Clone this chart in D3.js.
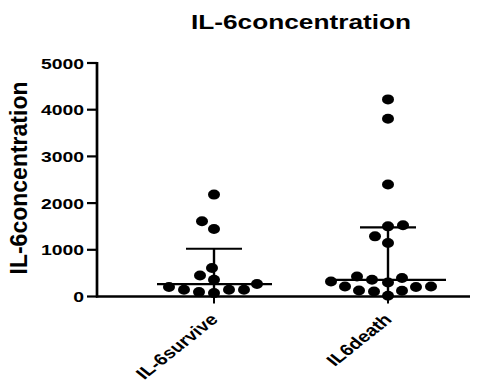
<!DOCTYPE html>
<html lang="en">
<head>
<meta charset="utf-8" />
<title>IL-6concentration</title>
<script src="https://cdn.jsdelivr.net/npm/d3@7"></script>
<style>
  body { margin: 0; background: #fff; }
  text { font-family: "Liberation Sans", Arial, sans-serif; font-weight: bold; fill: #000; }
</style>
</head>
<body>
<div id="chart"></div>
<script>
  // data
  var categories = ["IL-6survive", "IL6death"];
  var surviveValues = [2182, 1610, 1446, 609, 451, 358, 266, 202, 144, 144, 144, 94, 73];
  var deathValues = [4221, 3807, 2397, 1524, 1502, 1288, 1146, 429, 395, 358, 322, 300, 215, 215, 202, 129, 122, 107, 15];
  var medians = [266, 358];
  var upperBars = [1023, 1481];
  var yTicks = [0, 1000, 2000, 3000, 4000, 5000];

  var width = 502, height = 389;
  var sx = 1.25;          // the original picture is stretched sideways
  var rx = 6, ry = 5;     // dot size

  var svg = d3.select("#chart").append("svg")
      .attr("width", width)
      .attr("height", height);

  var x = d3.scalePoint().domain(categories).range([214, 388]);
  var y = d3.scaleLinear().domain([0, 5000]).range([296.5, 63]);

  function wideText(tx, ty, extra) {
    return "translate(" + tx + "," + ty + ") scale(" + sx + ",1)" + (extra || "");
  }

  // title
  svg.append("text")
      .attr("transform", wideText(301, 29))
      .attr("text-anchor", "middle")
      .style("font-size", "21px")
      .text("IL-6concentration");

  // y axis
  svg.append("line")
      .attr("x1", 97).attr("x2", 97)
      .attr("y1", y(5000) - 1).attr("y2", y(0) + 1)
      .attr("stroke", "#000").attr("stroke-width", 2.7);
  var yt = svg.selectAll(".ytick").data(yTicks).enter().append("g")
      .attr("transform", function(d) { return "translate(0," + y(d) + ")"; });
  yt.append("line")
      .attr("x1", 87).attr("x2", 97)
      .attr("stroke", "#000").attr("stroke-width", 2.2);
  yt.append("text")
      .attr("transform", wideText(84, 0))
      .attr("dy", "0.36em")
      .attr("text-anchor", "end")
      .style("font-size", "15.5px")
      .text(function(d) { return d; });

  svg.append("text")
      .attr("transform", "translate(27,178) rotate(-90)")
      .attr("text-anchor", "middle")
      .style("font-size", "23px")
      .text("IL-6concentration");

  // x axis
  svg.append("line")
      .attr("x1", 96).attr("x2", 470)
      .attr("y1", y(0)).attr("y2", y(0))
      .attr("stroke", "#000").attr("stroke-width", 2.5);
  svg.selectAll(".xtick").data(categories).enter().append("line")
      .attr("x1", function(d) { return x(d); }).attr("x2", function(d) { return x(d); })
      .attr("y1", y(0)).attr("y2", y(0) + 7)
      .attr("stroke", "#000").attr("stroke-width", 2);
  svg.selectAll(".xlabel").data(categories).enter().append("text")
      .attr("transform", function(d) { return wideText(x(d) + 5, y(0) + 24, " rotate(-45)"); })
      .attr("text-anchor", "end")
      .style("font-size", "16px")
      .text(function(d) { return d; });

  // simple beeswarm: place each point nearest the centre without overlap
  function swarm(values, cx) {
    var placed = [];
    var sorted = values.slice().sort(function(a, b) { return a - b; });
    var minDist = 2 * ry + 1.8;
    sorted.forEach(function(v) {
      var py = y(v);
      for (var k = 0; k < 300; k++) {
        var off = (k % 2 === 0 ? 1 : -1) * Math.ceil(k / 2);
        var px = cx + off;
        var ok = placed.every(function(p) {
          var dx = (p.x - px) / sx, dy = p.y - py;
          return dx * dx + dy * dy >= minDist * minDist;
        });
        if (ok) { placed.push({ x: px, y: py }); break; }
      }
    });
    return placed;
  }

  var groups = [surviveValues, deathValues];
  groups.forEach(function(vals, i) {
    var cx = x(categories[i]);
    var g = svg.append("g");
    // median line and upper bar
    g.append("line")
        .attr("x1", cx).attr("x2", cx)
        .attr("y1", y(upperBars[i])).attr("y2", y(0))
        .attr("stroke", "#000").attr("stroke-width", 2.4);
    g.append("line")
        .attr("x1", cx - 28).attr("x2", cx + 28)
        .attr("y1", y(upperBars[i])).attr("y2", y(upperBars[i]))
        .attr("stroke", "#000").attr("stroke-width", 2.2);
    g.append("line")
        .attr("x1", cx - 57).attr("x2", cx + 58)
        .attr("y1", y(medians[i])).attr("y2", y(medians[i]))
        .attr("stroke", "#000").attr("stroke-width", 2.2);
    g.selectAll("ellipse").data(swarm(vals, cx)).enter().append("ellipse")
        .attr("cx", function(d) { return d.x; })
        .attr("cy", function(d) { return d.y; })
        .attr("rx", rx)
        .attr("ry", ry)
        .attr("fill", "#000");
  });
</script>
</body>
</html>
